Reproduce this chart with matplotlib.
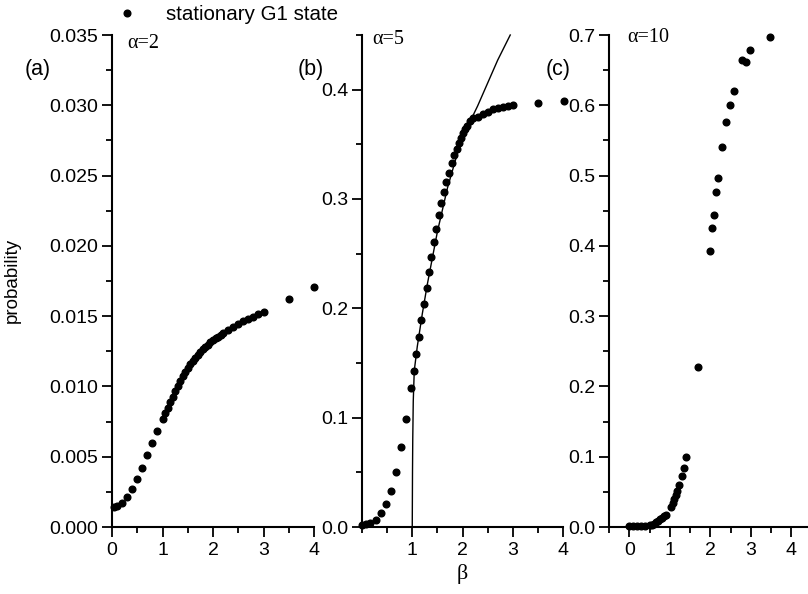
import numpy as np
import matplotlib
matplotlib.use('Agg')
import matplotlib.pyplot as plt
from matplotlib.ticker import MultipleLocator, FixedLocator, FormatStrFormatter

# panel (a), alpha = 2
beta_a = [0.03, 0.1, 0.2, 0.3, 0.4, 0.5, 0.6, 0.7, 0.8, 0.9, 1.0,
          1.05, 1.1, 1.15, 1.2, 1.25, 1.3, 1.35, 1.4, 1.45, 1.5, 1.55, 1.6,
          1.65, 1.7, 1.75, 1.8, 1.85, 1.9, 1.95, 2.0, 2.05, 2.1, 2.15, 2.2,
          2.3, 2.4, 2.5, 2.6, 2.7, 2.8, 2.9, 3.0, 3.5, 4.0]
prob_a = [0.0014, 0.0015, 0.0017, 0.0021, 0.0027, 0.0034, 0.0042, 0.0051,
          0.0060, 0.0068, 0.0077,
          0.00812, 0.0085, 0.00889, 0.00927, 0.00964, 0.0100, 0.01036,
          0.01072, 0.01102, 0.0113, 0.01157, 0.0118, 0.01202, 0.01223,
          0.01245, 0.01265, 0.01282, 0.01298, 0.01313, 0.01328, 0.01342,
          0.01355, 0.01368, 0.0138,
          0.0140, 0.0142, 0.01443, 0.01464, 0.01482, 0.01497, 0.01514,
          0.0153, 0.0162, 0.0171]

# panel (b), alpha = 5
beta_b = [0.0, 0.07, 0.16, 0.27, 0.37, 0.47, 0.58, 0.68, 0.78, 0.88, 0.98,
          1.03, 1.08, 1.13, 1.18, 1.24, 1.29, 1.33, 1.38, 1.43, 1.48, 1.53,
          1.58, 1.63, 1.68, 1.73, 1.79, 1.84, 1.89, 1.93, 1.97, 2.01, 2.05,
          2.09, 2.15, 2.2, 2.31, 2.41, 2.51, 2.61, 2.71, 2.81, 2.91, 3.01,
          3.51, 4.02]
prob_b = [0.002, 0.003, 0.004, 0.0064, 0.0125, 0.021, 0.033, 0.0506, 0.073,
          0.0985, 0.1275, 0.143, 0.158, 0.174, 0.189, 0.204, 0.219, 0.233,
          0.247, 0.261, 0.273, 0.285, 0.296, 0.306, 0.316, 0.324, 0.333,
          0.340, 0.346, 0.351, 0.356, 0.360, 0.364, 0.367, 0.371, 0.374,
          0.375, 0.378, 0.380, 0.382, 0.383, 0.384, 0.385, 0.386, 0.388, 0.390]

# solid curve in panel (b)
line_beta = [1.0, 1.005, 1.01, 1.02, 1.04, 1.1, 1.2, 1.3, 1.5, 1.7, 1.9,
             2.1, 2.3, 2.5, 2.7, 2.95]
line_prob = [0.0, 0.05, 0.08, 0.115, 0.143, 0.165, 0.195, 0.222, 0.27, 0.31,
             0.342, 0.366, 0.385, 0.406, 0.427, 0.45]

# panel (c), alpha = 10
beta_c = [0.0, 0.1, 0.2, 0.3, 0.4, 0.5, 0.55, 0.6, 0.65, 0.7, 0.75, 0.8,
          0.85, 0.9, 1.03, 1.07, 1.11, 1.15, 1.19, 1.23, 1.29, 1.34, 1.40,
          1.69, 1.99, 2.04, 2.09, 2.14, 2.20, 2.30, 2.39, 2.49, 2.59, 2.79,
          2.89, 2.99, 3.47]
prob_c = [0.001, 0.001, 0.0012, 0.0015, 0.002, 0.0028, 0.0035, 0.0045,
          0.0066, 0.009, 0.011, 0.013, 0.015, 0.0175, 0.029, 0.034, 0.040,
          0.046, 0.051, 0.060, 0.072, 0.084, 0.099, 0.228, 0.392, 0.425,
          0.444, 0.477, 0.496, 0.541, 0.576, 0.600, 0.621, 0.664, 0.662,
          0.678, 0.697]

SANS = 'Liberation Sans'
SERIF = 'Liberation Serif'
plt.rcParams['font.family'] = SANS

W, H = 808, 594
fig = plt.figure(figsize=(W / 100, H / 100), dpi=100)


def px_axes(x0, x1, y_top=35, y_bot=527):
    return fig.add_axes([x0 / W, 1 - y_bot / H, (x1 - x0) / W, (y_bot - y_top) / H])


def style(ax):
    for s in ('top', 'right'):
        ax.spines[s].set_visible(False)
    for s in ('left', 'bottom'):
        ax.spines[s].set_linewidth(1.5)
    ax.tick_params(which='major', direction='out', length=7, width=1.3,
                   labelsize=14, pad=3)
    ax.tick_params(axis='x', which='major', pad=4)
    ax.tick_params(which='minor', direction='out', length=4, width=1.3)
    ax.xaxis.set_minor_locator(MultipleLocator(0.5))
    ax.patch.set_alpha(0)


dot = dict(ls='none', marker='o', ms=4.8, color='black', clip_on=False)

# (a)
ax_a = px_axes(112, 314)
ax_a.plot(beta_a, prob_a, label='stationary G1 state', **dot)
ax_a.set_xlim(0, 4)
ax_a.set_ylim(0, 0.035)
ax_a.xaxis.set_major_locator(MultipleLocator(1))
ax_a.yaxis.set_major_locator(MultipleLocator(0.005))
ax_a.yaxis.set_minor_locator(MultipleLocator(0.0025))
ax_a.yaxis.set_major_formatter(FormatStrFormatter('%.3f'))
style(ax_a)

# (b)
ax_b = px_axes(362, 563)
ax_b.plot(beta_b, prob_b, **dot)
ax_b.plot(line_beta, line_prob, color='black', lw=1.0, clip_on=False)
ax_b.set_xlim(0, 4)
ax_b.set_ylim(0, 0.45)
ax_b.xaxis.set_major_locator(FixedLocator([1, 2, 3, 4]))
ax_b.yaxis.set_major_locator(MultipleLocator(0.1))
ax_b.yaxis.set_minor_locator(MultipleLocator(0.05))
ax_b.yaxis.set_major_formatter(FormatStrFormatter('%.1f'))
style(ax_b)

# (c)
ax_c = px_axes(609, 808)
ax_c.plot(beta_c, prob_c, **dot)
ax_c.set_xlim(-0.5, 4.41)
ax_c.set_ylim(0, 0.7)
ax_c.xaxis.set_major_locator(MultipleLocator(1))
ax_c.yaxis.set_major_locator(MultipleLocator(0.1))
ax_c.yaxis.set_minor_locator(MultipleLocator(0.05))
ax_c.yaxis.set_major_formatter(FormatStrFormatter('%.1f'))
style(ax_c)


# panel labels and alpha annotations
def ftext(x, y, s, **kw):
    fig.text(x / W, 1 - y / H, s, va='center', **kw)


ftext(25, 70, '(a)', fontsize=15.5, family=SANS)
ftext(298, 70, '(b)', fontsize=15.5, family=SANS)
ftext(546, 70, '(c)', fontsize=15.5, family=SANS)
ftext(127, 43, 'α=2', fontsize=14.5, family=SERIF)
ftext(372, 40, 'α=5', fontsize=14.5, family=SERIF)
ftext(627, 37, 'α=10', fontsize=14.5, family=SERIF)

ftext(462, 574, 'β', fontsize=16, family=SERIF, ha='center')
fig.text(12 / W, 1 - 280 / H, 'probability', rotation=90, va='center',
         ha='center', fontsize=13.5, family=SANS)

h, l = ax_a.get_legend_handles_labels()
fig.legend(h, l, loc='center left', bbox_to_anchor=(115 / W, 1 - 15 / H),
           frameon=False, fontsize=14.8, handlelength=1.2, handletextpad=1.3,
           borderaxespad=0, borderpad=0)

fig.savefig('out.png', dpi=100)
